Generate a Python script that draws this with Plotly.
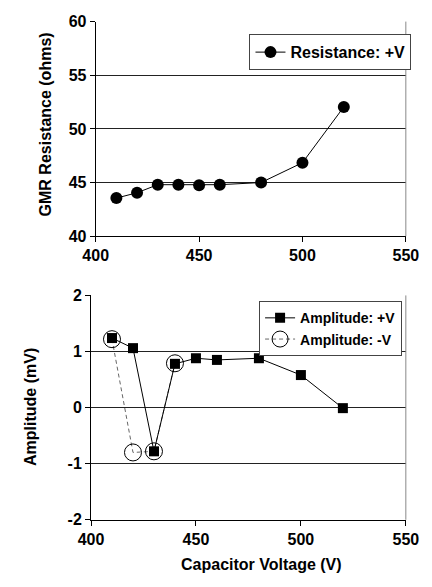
import plotly.graph_objects as go
from plotly.subplots import make_subplots

voltage_res = [410, 420, 430, 440, 450, 460, 480, 500, 520]
resistance_pos = [43.55, 44.05, 44.8, 44.8, 44.75, 44.8, 45.0, 46.85, 52.05]

voltage_amp_pos = [410, 420, 430, 440, 450, 460, 480, 500, 520]
amplitude_pos = [1.24, 1.06, -0.78, 0.78, 0.88, 0.85, 0.88, 0.58, -0.01]

voltage_amp_neg = [410, 420, 430, 440]
amplitude_neg = [1.22, -0.8, -0.78, 0.79]

x_ticks = [400, 450, 500, 550]
res_ticks = [40, 45, 50, 55, 60]
amp_ticks = [-2, -1, 0, 1, 2]

W, H = 432, 587
FONT = "Liberation Sans"

fig = make_subplots(rows=2, cols=1)

fig.add_trace(go.Scatter(
    x=voltage_res, y=resistance_pos, mode="lines+markers",
    name="<b>Resistance: +V</b>",
    line=dict(color="black", width=1),
    marker=dict(symbol="circle", size=12, color="black"),
    legend="legend", cliponaxis=False), row=1, col=1)

fig.add_trace(go.Scatter(
    x=voltage_amp_neg, y=amplitude_neg, mode="lines+markers",
    name="<b>Amplitude: -V</b>",
    line=dict(color="#666", width=1, dash="4px,3px"),
    marker=dict(symbol="circle-open", size=17, color="black", line=dict(width=1, color="black")),
    legend="legend2", legendrank=2, cliponaxis=False), row=2, col=1)

fig.add_trace(go.Scatter(
    x=voltage_amp_pos, y=amplitude_pos, mode="lines+markers",
    name="<b>Amplitude: +V</b>",
    line=dict(color="black", width=1),
    marker=dict(symbol="square", size=10, color="black"),
    legend="legend2", legendrank=1, cliponaxis=False), row=2, col=1)

def bold(vals):
    return ["<b>%s</b>" % v for v in vals]

axis_common = dict(
    showline=True, linecolor="black", linewidth=1,
    ticks="outside", ticklen=5, tickcolor="black", tickwidth=1,
    tickfont=dict(family=FONT, size=16, color="black", weight=700),
    zeroline=False,
)

fig.update_xaxes(**axis_common, range=[400, 550], tickvals=x_ticks,
                 ticktext=bold(x_ticks), showgrid=False)
fig.update_xaxes(domain=[88 / W, 418 / W], row=1, col=1)
fig.update_xaxes(domain=[83 / W, 418 / W], row=2, col=1)

fig.update_yaxes(**axis_common, showgrid=True, gridcolor="#222", gridwidth=1)
fig.update_yaxes(range=[40, 60], tickvals=res_ticks, ticktext=bold(res_ticks),
                 domain=[1 - 235 / H, 1 - 14 / H], row=1, col=1)
fig.update_yaxes(range=[-2, 2], tickvals=amp_ticks, ticktext=bold(amp_ticks),
                 domain=[1 - 527 / H, 1 - 296 / H], row=2, col=1)

# right borders of plot areas
for xr, yr in (("x domain", "y domain"), ("x2 domain", "y2 domain")):
    fig.add_shape(type="line", xref=xr, yref=yr, x0=1, x1=1, y0=0, y1=1,
                  line=dict(color="#888", width=1))

title_font = dict(family=FONT, size=16, color="black")
fig.add_annotation(text="<b>GMR Resistance (ohms)</b>", xref="paper", yref="paper",
                   x=35 / W, y=1 - 120 / H, textangle=-90, showarrow=False,
                   font=title_font, xanchor="center", yanchor="middle")
fig.add_annotation(text="<b>Amplitude (mV)</b>", xref="paper", yref="paper",
                   x=18 / W, y=1 - 411 / H, textangle=-90, showarrow=False,
                   font=title_font, xanchor="center", yanchor="middle")
fig.add_annotation(text="<b>Capacitor Voltage (V)</b>", xref="paper", yref="paper",
                   x=264 / W, y=1 - 573 / H, showarrow=False,
                   font=title_font, xanchor="center", yanchor="middle")

legend_common = dict(
    bgcolor="white", bordercolor="#444", borderwidth=1,
    xanchor="right", yanchor="top", itemsizing="trace",
    tracegroupgap=0, itemwidth=30,
)

fig.update_layout(
    width=W, height=H,
    margin=dict(l=0, r=0, t=0, b=0),
    paper_bgcolor="white", plot_bgcolor="white",
    showlegend=True,
    legend=dict(**legend_common, x=424 / W, y=1 - 27 / H,
                font=dict(family=FONT, size=16, color="black")),
    legend2=dict(**legend_common, x=414 / W, y=1 - 302 / H, traceorder="normal",
                 font=dict(family=FONT, size=14, color="black")),
)

fig.write_html("out.html")
